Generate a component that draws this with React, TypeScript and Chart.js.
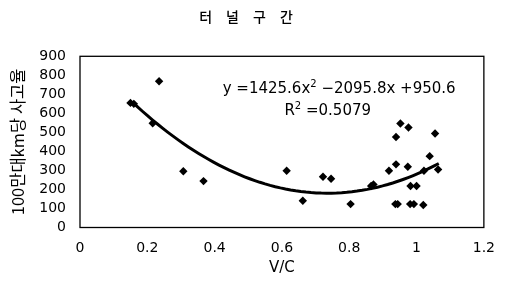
import React, { useEffect, useRef } from "react";
import { Chart, registerables } from "chart.js";

Chart.register(...registerables);

// ---- data ----
const titleText = "터　널　구　간";
const xAxisTitle = "V/C";
const yAxisTitle = "100만대km당 사고율";

const vcValues = [
  0.15, 0.16, 0.235, 0.216, 0.307, 0.367, 0.614, 0.662, 0.722, 0.746, 0.804,
  0.865, 0.872, 0.918, 0.939, 0.939, 0.952, 0.976, 0.974, 0.982, 1.0, 0.937,
  0.944, 0.981, 0.992, 1.02, 1.022, 1.039, 1.055, 1.064,
];
const accidentRates = [
  655, 650, 769, 548, 296, 244, 298, 141, 267, 256, 123,
  218, 226, 298, 332, 476, 547, 526, 319, 218, 218, 123,
  123, 123, 123, 118, 298, 375, 494, 305,
];

const xTickValues = [0, 0.2, 0.4, 0.6, 0.8, 1, 1.2];
const xTickLabels = ["0", "0.2", "0.4", "0.6", "0.8", "1", "1.2"];
const yTickValues = [0, 100, 200, 300, 400, 500, 600, 700, 800, 900];
const yTickLabels = ["0", "100", "200", "300", "400", "500", "600", "700", "800", "900"];

// trendline as printed on the chart: y = 1425.6x^2 - 2095.8x + 950.6
const trendA = 1425.6;
const trendB = -2095.8;
const trendC = 950.6;
const trendStart = 0.155;
const trendEnd = 1.066;
const equationMain = "y =1425.6x";
const equationSup = "2";
const equationRest = " \u22122095.8x +950.6";
const r2Main = "R";
const r2Sup = "2";
const r2Rest = " =0.5079";

export default function App() {
  const ref = useRef<HTMLCanvasElement | null>(null);

  useEffect(() => {
    const canvas = ref.current;
    if (!canvas) return;

    const points = vcValues.map((x, i) => ({ x, y: accidentRates[i] }));
    const trend: { x: number; y: number }[] = [];
    const n = 60;
    for (let i = 0; i <= n; i++) {
      const x = trendStart + ((trendEnd - trendStart) * i) / n;
      trend.push({ x, y: trendA * x * x + trendB * x + trendC });
    }

    const tickFont = { family: "DejaVu Sans", size: 14 };

    const boxPlugin = {
      id: "boxPlugin",
      afterDraw(chart: any) {
        const { ctx, chartArea } = chart;
        ctx.save();
        ctx.strokeStyle = "#000";
        ctx.lineWidth = 1.3;
        ctx.strokeRect(chartArea.left, chartArea.top, chartArea.right - chartArea.left, chartArea.bottom - chartArea.top);
        ctx.restore();
      },
    };

    const drawSupText = (ctx: any, cx: number, baseY: number, a: string, sup: string, b: string) => {
      const mainFont = "15px 'DejaVu Sans'";
      const supFont = "10px 'DejaVu Sans'";
      ctx.font = mainFont;
      const wa = ctx.measureText(a).width;
      const wb = ctx.measureText(b).width;
      ctx.font = supFont;
      const ws = ctx.measureText(sup).width;
      const total = wa + ws + wb;
      let x = cx - total / 2;
      ctx.textAlign = "left";
      ctx.textBaseline = "alphabetic";
      ctx.fillStyle = "#000";
      ctx.font = mainFont;
      ctx.fillText(a, x, baseY);
      x += wa;
      ctx.font = supFont;
      ctx.fillText(sup, x, baseY - 6);
      x += ws;
      ctx.font = mainFont;
      ctx.fillText(b, x, baseY);
    };

    const equationPlugin = {
      id: "equationPlugin",
      afterDatasetsDraw(chart: any) {
        const { ctx, scales } = chart;
        ctx.save();
        const eqX = scales.x.getPixelForValue(0.77);
        const eqY = scales.y.getPixelForValue(706);
        drawSupText(ctx, eqX, eqY, equationMain, equationSup, equationRest);
        const rX = scales.x.getPixelForValue(0.736);
        const rY = scales.y.getPixelForValue(590);
        drawSupText(ctx, rX, rY, r2Main, r2Sup, r2Rest);
        ctx.restore();
      },
    };

    const chart = new Chart(canvas, {
      type: "scatter",
      data: {
        datasets: [
          {
            type: "line",
            data: trend,
            borderColor: "#000",
            borderWidth: 3,
            pointRadius: 0,
            fill: false,
            tension: 0,
          } as any,
          {
            type: "scatter",
            data: points,
            pointStyle: "rectRot",
            pointRadius: 4.2,
            backgroundColor: "#000",
            borderColor: "#000",
            borderWidth: 0,
          } as any,
        ],
      },
      options: {
        responsive: false,
        animation: false,
        devicePixelRatio: 1,
        layout: { padding: { left: 0, right: 15, top: 0, bottom: 0 } },
        plugins: {
          legend: { display: false },
          tooltip: { enabled: false },
          title: {
            display: true,
            text: titleText,
            color: "#000",
            font: { family: "Noto Sans CJK KR", size: 14, weight: "500" },
            padding: { top: 8, bottom: 31.5 },
          },
        },
        scales: {
          x: {
            type: "linear",
            min: 0,
            max: 1.2,
            afterBuildTicks: (s: any) => {
              s.ticks = xTickValues.map((v) => ({ value: v }));
            },
            ticks: {
              color: "#000",
              font: tickFont,
              padding: 12,
              maxRotation: 0,
              autoSkip: false,
              callback: (v: any) => {
                const i = xTickValues.findIndex((t) => Math.abs(t - Number(v)) < 1e-9);
                return i >= 0 ? xTickLabels[i] : "";
              },
            },
            grid: { display: false, drawTicks: false },
            border: { display: false },
            title: {
              display: true,
              text: xAxisTitle,
              color: "#000",
              font: { family: "DejaVu Sans", size: 15 },
              padding: { top: 0, bottom: 6 },
            },
            afterFit: (s: any) => {
              s.height = 55.5;
            },
          },
          y: {
            type: "linear",
            min: 0,
            max: 900,
            afterBuildTicks: (s: any) => {
              s.ticks = yTickValues.map((v) => ({ value: v }));
            },
            ticks: {
              color: "#000",
              font: tickFont,
              padding: 14,
              autoSkip: false,
              callback: (v: any) => {
                const i = yTickValues.indexOf(Number(v));
                return i >= 0 ? yTickLabels[i] : "";
              },
            },
            grid: { display: false, drawTicks: false },
            border: { display: false },
            title: {
              display: true,
              text: yAxisTitle,
              color: "#000",
              font: { family: "Noto Sans CJK KR", size: 16.5 },
              padding: { top: 8, bottom: 0 },
            },
            afterFit: (s: any) => {
              s.width = 80;
            },
          },
        },
      } as any,
      plugins: [boxPlugin, equationPlugin],
    });

    return () => chart.destroy();
  }, []);

  return (
    <div style={{ position: "absolute", left: 0, top: 0, width: 507, height: 283, background: "#fff" }}>
      <canvas ref={ref} width={507} height={283} style={{ display: "block", width: 507, height: 283 }} />
    </div>
  );
}
